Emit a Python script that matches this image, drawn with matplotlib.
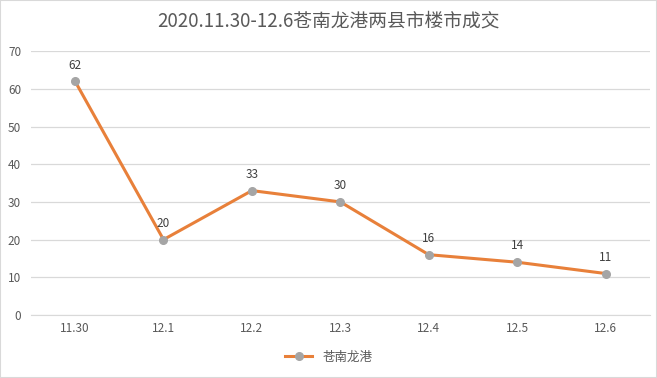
import matplotlib.pyplot as plt
from matplotlib.patches import Rectangle

plt.rcParams['font.family'] = ['Noto Sans CJK SC', 'DejaVu Sans']

dates = ['11.30', '12.1', '12.2', '12.3', '12.4', '12.5', '12.6']
deals = [62, 20, 33, 30, 16, 14, 11]
series_name = '苍南龙港'
title = '2020.11.30-12.6苍南龙港两县市楼市成交'

fig = plt.figure(figsize=(6.57, 3.78), dpi=100)
ax = fig.add_axes([0.047, 0.1667, 0.942, 0.698])

x = list(range(len(dates)))
line, = ax.plot(x, deals, color='#E8803A', lw=2.2, marker='o', ms=5.5,
                mfc='#A5A5A5', mec='#A5A5A5', label=series_name, zorder=3)
for xi, v in zip(x, deals):
    ax.annotate(str(v), (xi, v), xytext=(0, 7), textcoords='offset points',
                ha='center', va='bottom', fontsize=8.5, color='#404040')

ax.set_xlim(-0.5, len(dates) - 0.5)
ax.set_ylim(0, 70)
ax.set_yticks(range(0, 71, 10))
ax.set_xticks(x)
ax.set_xticklabels(dates)
ax.grid(axis='y', color='#D9D9D9', lw=0.9)
ax.set_axisbelow(True)
for s in ['top', 'right', 'left']:
    ax.spines[s].set_visible(False)
ax.spines['bottom'].set_color('#D9D9D9')
ax.tick_params(length=0, labelsize=8.5, colors='#595959')
ax.tick_params(axis='x', pad=5)
ax.tick_params(axis='y', pad=7)

fig.text(0.5, 0.945, title, ha='center', va='center', fontsize=13.5, color='#595959')
fig.legend(handles=[line], loc='center', bbox_to_anchor=(0.5, 0.055), frameon=False,
           fontsize=9, labelcolor='#595959', handlelength=2.2)

fig.patches.append(Rectangle((0, 0), 1, 1, transform=fig.transFigure, fill=False,
                             ec='#D9D9D9', lw=1.5))
fig.savefig('out.png', dpi=100)
